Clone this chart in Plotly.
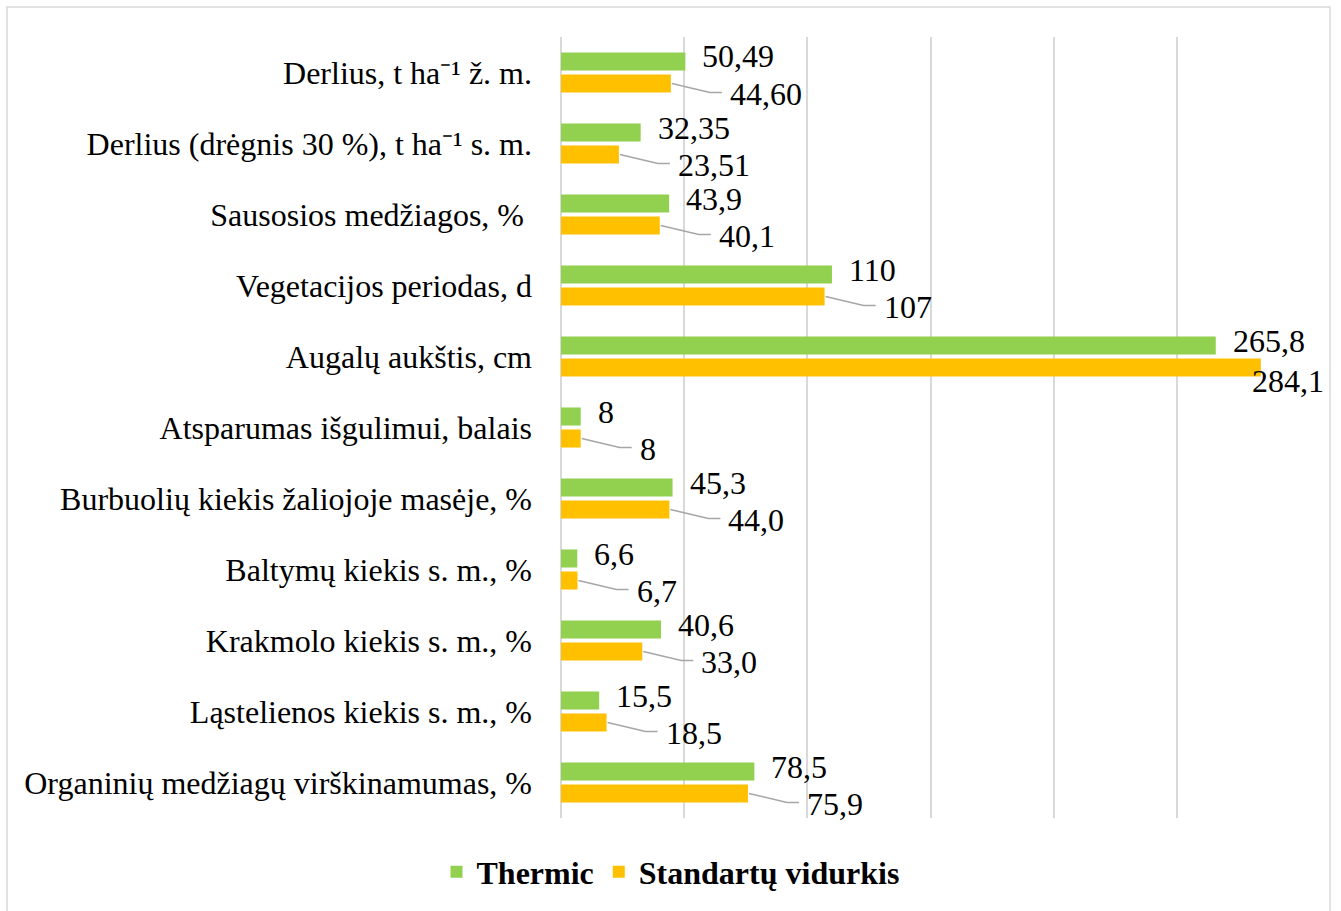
import plotly.graph_objects as go

categories = [
    "Derlius, t ha\u207b\u00b9 \u017e. m.",
    "Derlius (dr\u0117gnis 30 %), t ha\u207b\u00b9 s. m.",
    "Sausosios med\u017eiagos, % ",
    "Vegetacijos periodas, d",
    "Augal\u0173 auk\u0161tis, cm",
    "Atsparumas i\u0161gulimui, balais",
    "Burbuoli\u0173 kiekis \u017ealiojoje mas\u0117je, %",
    "Baltym\u0173 kiekis s. m., %",
    "Krakmolo kiekis s. m., %",
    "L\u0105stelienos kiekis s. m., %",
    "Organini\u0173 med\u017eiag\u0173 vir\u0161kinamumas, %",
]
thermic = [50.49, 32.35, 43.9, 110, 265.8, 8, 45.3, 6.6, 40.6, 15.5, 78.5]
thermic_labels = ["50,49", "32,35", "43,9", "110", "265,8", "8", "45,3", "6,6", "40,6", "15,5", "78,5"]
standard = [44.60, 23.51, 40.1, 107, 284.1, 8, 44.0, 6.7, 33.0, 18.5, 75.9]
standard_labels = ["44,60", "23,51", "40,1", "107", "284,1", "8", "44,0", "6,7", "33,0", "18,5", "75,9"]

GREEN = "#92D050"
ORANGE = "#FFC000"
FONT = "Liberation Serif"
FS = 32

W, H = 1341, 911
ML, MR, MT, MB = 561, 41, 37, 93
XMAX = 300
BARGAP = 0.38
px_per_unit = (W - ML - MR) / XMAX
off = (1 - BARGAP) / 4  # bar center offset in category units

ypos = list(range(len(categories)))

fig = go.Figure()
fig.add_trace(go.Bar(y=ypos, x=thermic, orientation="h", name="Thermic",
                     marker=dict(color=GREEN, line=dict(width=0))))
fig.add_trace(go.Bar(y=ypos, x=standard, orientation="h", name="Standartų vidurkis",
                     marker=dict(color=ORANGE, line=dict(width=0))))

annotations = []
shapes = []
max_label_px = 1250 - ML  # labels cannot start further right than this
for i, (v, t) in enumerate(zip(thermic, thermic_labels)):
    annotations.append(dict(x=v, y=i - off, xref="x", yref="y", text=t, showarrow=False,
                            xanchor="left", yanchor="middle", xshift=15, yshift=5,
                            font=dict(family=FONT, size=FS, color="black")))
for i, (v, t) in enumerate(zip(standard, standard_labels)):
    end_px = v * px_per_unit
    if end_px + 59 <= max_label_px:
        annotations.append(dict(x=v, y=i + off, xref="x", yref="y", text=t, showarrow=False,
                                xanchor="left", yanchor="middle", xshift=57, yshift=-10,
                                font=dict(family=FONT, size=FS, color="black")))
        shapes.append(dict(type="path", xref="x", yref="y", xsizemode="pixel", ysizemode="pixel",
                           xanchor=v, yanchor=i + off,
                           path="M 1 0 L 39 -9 L 51 -9",
                           line=dict(color="#A6A6A6", width=1.5)))
    else:
        annotations.append(dict(x=max_label_px / px_per_unit, y=i + off, xref="x", yref="y", text=t,
                                showarrow=False, xanchor="left", yanchor="middle", yshift=-13,
                                font=dict(family=FONT, size=FS, color="black")))

# outer chart border
shapes.append(dict(type="rect", xref="paper", yref="paper",
                   x0=(7 - ML) / (W - ML - MR), x1=(1330 - ML) / (W - ML - MR),
                   y0=-(H - MT - 7 + 20) / (H - MT - MB) + 1, y1=1 + (MT - 7) / (H - MT - MB),
                   line=dict(color="#D9D9D9", width=1.5), layer="below"))

fig.update_layout(
    width=W, height=H,
    margin=dict(l=ML, r=MR, t=MT, b=MB, pad=0),
    paper_bgcolor="white", plot_bgcolor="white",
    barmode="group", bargap=BARGAP, bargroupgap=0.18,
    font=dict(family=FONT, size=FS, color="black"),
    xaxis=dict(range=[0, XMAX], dtick=50, showticklabels=False, showgrid=True,
               gridcolor="#D9D9D9", gridwidth=1.5, zeroline=True, zerolinecolor="#D9D9D9",
               zerolinewidth=1.5, showline=False, ticks=""),
    yaxis=dict(tickmode="array", tickvals=ypos, ticktext=categories,
               showgrid=False, zeroline=False, showline=False, ticks="",
               ticklabelstandoff=28, tickfont=dict(family=FONT, size=FS, color="black")),
    showlegend=True,
    legend=dict(orientation="h", xref="container", yref="container", x=0.5, y=1 - 872 / H,
                xanchor="center", yanchor="middle", traceorder="normal",
                font=dict(family=FONT, size=FS, color="black", weight="bold"),
                itemwidth=30),
    annotations=annotations,
    shapes=shapes,
)
fig.update_yaxes(range=[len(categories) - 0.5, -0.5], autorange=False)

fig.write_html("out.html", config={"displayModeBar": False},
               post_script="document.body.style.margin='0';")
